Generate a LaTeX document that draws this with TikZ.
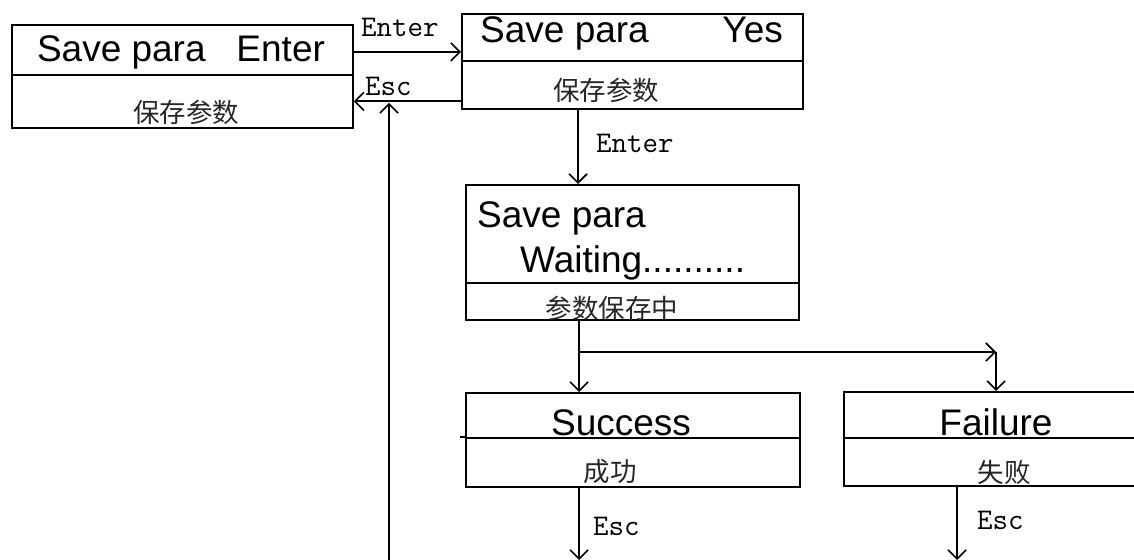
\documentclass[tikz,border=0pt]{standalone}
\usepackage{fontspec}
\setmainfont{Liberation Sans}
\newfontfamily\cjk{Noto Sans CJK SC}
\usetikzlibrary{arrows.meta}
\begin{document}
\begin{tikzpicture}[x=1pt,y=-1pt,
  box/.style={draw=black,line width=1.8pt,inner sep=0pt,rectangle,anchor=north west},
  big/.style={font=\fontsize{37}{40}\selectfont,inner sep=0pt},
  zh/.style={font=\cjk\fontsize{26.5}{28}\selectfont,inner sep=0pt,text=black!85},
  key/.style={font=\ttfamily\fontsize{30}{32}\selectfont,inner sep=0pt,anchor=base west},
  arr/.style={line width=1.8pt,-{Straight Barb[length=9pt,width=18pt,line width=1.6pt]}}]
\useasboundingbox (0,0) rectangle (1134,559);
% boxes
\node[box,minimum width=341pt,minimum height=50pt] (b1t) at (11,24) {};
\node[box,minimum width=341pt,minimum height=53pt] (b1b) at (11,74) {};
\node[box,minimum width=341pt,minimum height=47pt] (b2t) at (461,13) {};
\node[box,minimum width=341pt,minimum height=48pt] (b2b) at (461,60) {};
\node[box,minimum width=333pt,minimum height=98pt] (b3t) at (465,184) {};
\node[box,minimum width=333pt,minimum height=37pt] (b3b) at (465,282) {};
\node[box,minimum width=334pt,minimum height=45pt] (st) at (465,392) {};
\node[box,minimum width=334pt,minimum height=49pt] (sb) at (465,437) {};
\node[box,minimum width=320pt,minimum height=46pt] (ft) at (843,391) {};
\node[box,minimum width=320pt,minimum height=48pt] (fb) at (843,437) {};
\draw[line width=1.8pt] (sb.north west) -- ++(-5,0);
% texts
\node[big,anchor=base] (t1) at (181,62) {Save para\ \ \ Enter};
\node[zh] (z1) at (186,112) {保存参数};
\node[big,anchor=base west] (t2a) at (480,43) {Save para};
\node[big,anchor=base east] (t2b) at (783,43) {Yes};
\node[zh] (z2) at (606,90) {保存参数};
\node[big,anchor=base west] (t3a) at (477,227) {Save para};
\node[big,anchor=base west] (t3b) at (520,272) {Waiting..........};
\node[zh] (z3) at (612,308) {参数保存中};
\node[big,anchor=base] (t4) at (621,435) {Success};
\node[zh] (z4) at (610,472) {成功};
\node[big,anchor=base] (t5) at (996,435) {Failure};
\node[zh] (z5) at (1004,472) {失败};
% connector labels
\node[key] (k1) at (361,37) {Enter};
\node[key] (k2) at (365,96) {Esc};
\node[key] (k3) at (596,152) {Enter};
\node[key] (k4) at (593,535) {Esc};
\node[key] (k5) at (977,529) {Esc};
% coordinates
\coordinate (c1) at (578,0);
\coordinate (c2) at (579,352);
\coordinate (c3) at (996,352);
\coordinate (lb) at (389,562);
\coordinate (e1) at (579,560);
\coordinate (e2) at (957,560);
% connectors
\draw[arr] ([yshift=-2pt]b1t.east) -- ([yshift=-2pt]b1t.east -| b2t.west);
\draw[arr] (b1b.east -| b2b.west) -- (b1b.east);
\draw[arr] (lb) -- ([yshift=-1.5pt]lb |- b1b.east);
\draw[arr] (b2b.south -| c1) -- (b3t.north -| c1);
\draw[arr] (b3b.south -| c2) -- (st.north -| c2);
\draw[arr] (c2) -- (c3);
\draw[arr] (c3) -- (ft.north -| c3);
\draw[arr] (sb.south -| e1) -- (e1);
\draw[arr] (fb.south -| e2) -- (e2);
\end{tikzpicture}
\end{document}
